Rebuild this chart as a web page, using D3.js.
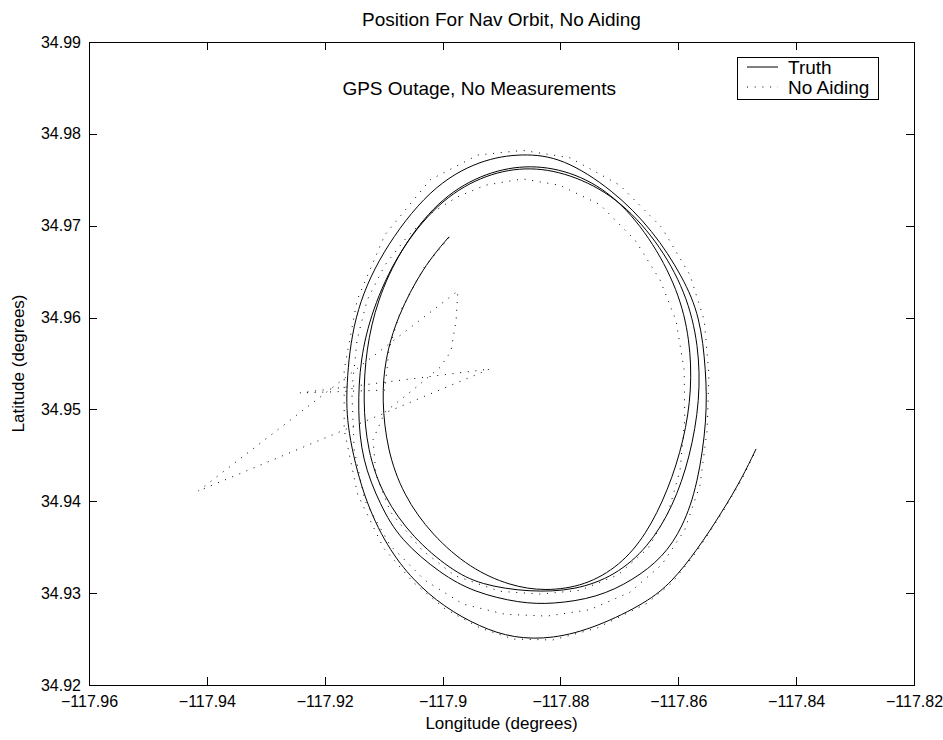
<!DOCTYPE html>
<html>
<head>
<meta charset="utf-8">
<script src="https://cdn.jsdelivr.net/npm/d3@7"></script>
<style>
body { margin: 0; background: #fff; }
svg text { font-family: "Liberation Sans", Arial, Helvetica, sans-serif; fill: #000; }
</style>
</head>
<body>
<svg id="chart" width="943" height="740"></svg>
<script>
// axis ticks
const xTicks = [-117.96, -117.94, -117.92, -117.9, -117.88, -117.86, -117.84, -117.82];
const yTicks = [34.92, 34.93, 34.94, 34.95, 34.96, 34.97, 34.98, 34.99];

// truth trajectory (deg)
const truthLon = [
    -117.8989, -117.9033, -117.9077, -117.9098, -117.9103, -117.9094, -117.9067, -117.9018, -117.8953, -117.8886, -117.8826, -117.8758,
    -117.8699, -117.8655, -117.8617, -117.8590, -117.8577, -117.8580, -117.8600, -117.8648, -117.8711, -117.8784, -117.8860,
    -117.8936, -117.9009, -117.9072, -117.9111, -117.9130, -117.9135, -117.9128, -117.9101, -117.9050, -117.8987, -117.8936, -117.8852,
    -117.8775, -117.8707, -117.8651, -117.8609, -117.8580, -117.8563, -117.8565, -117.8587, -117.8636, -117.8704, -117.8784, -117.8860,
    -117.8936, -117.9009, -117.9077, -117.9120, -117.9140, -117.9144, -117.9137, -117.9106, -117.9072, -117.9003, -117.8947, -117.8869,
    -117.8813, -117.8738, -117.8677, -117.8626, -117.8592, -117.8567, -117.8551, -117.8553, -117.8563, -117.8592, -117.8643, -117.8711,
    -117.8796, -117.8864,
    -117.8936, -117.9021, -117.9106, -117.9152, -117.9164, -117.9162, -117.9135, -117.9094, -117.9050, -117.8998, -117.8936, -117.8880,
    -117.8813, -117.8738, -117.8653, -117.8611, -117.8568, -117.8526, -117.8492, -117.8468
];
const truthLat = [
    34.9688, 34.9655, 34.9601, 34.9554, 34.9510, 34.9456, 34.9407, 34.9363, 34.9327, 34.9308, 34.9302, 34.9308,
    34.9330, 34.9363, 34.9412, 34.9467, 34.9521, 34.9576, 34.9630, 34.9688, 34.9735, 34.9760, 34.9767,
    34.9756, 34.9727, 34.9674, 34.9619, 34.9565, 34.9510, 34.9456, 34.9405, 34.9360, 34.9326, 34.9309, 34.9301,
    34.9303, 34.9319, 34.9350, 34.9394, 34.9448, 34.9510, 34.9570, 34.9628, 34.9684, 34.9731, 34.9757, 34.9765,
    34.9754, 34.9725, 34.9670, 34.9608, 34.9554, 34.9499, 34.9445, 34.9396, 34.9358, 34.9321, 34.9301, 34.9289,
    34.9288, 34.9295, 34.9314, 34.9339, 34.9372, 34.9418, 34.9489, 34.9543, 34.9601, 34.9644, 34.9695, 34.9739,
    34.9774, 34.9779,
    34.9772, 34.9742, 34.9670, 34.9601, 34.9524, 34.9478, 34.9405, 34.9350, 34.9314, 34.9285, 34.9263, 34.9251,
    34.9250, 34.9263, 34.9290, 34.9312, 34.9347, 34.9388, 34.9425, 34.9457
];

// unaided nav solution (deg)
const noAidLon = [
    -117.8989, -117.9032, -117.9071, -117.9091, -117.9098,
    -117.9242, -117.8920, -117.9415, -117.8974, -117.8977, -117.8986, -117.9004, -117.9047,
    -117.9098, -117.9118, -117.9113, -117.9088, -117.9035, -117.8979, -117.8903, -117.8835, -117.8767, -117.8702,
    -117.8651, -117.8617, -117.8597, -117.8589, -117.8590, -117.8604, -117.8631, -117.8673, -117.8733, -117.8801,
    -117.8864, -117.8928, -117.8976, -117.9021, -117.9060, -117.9098, -117.9128, -117.9145, -117.9154, -117.9150,
    -117.9132, -117.9089, -117.9030, -117.8965, -117.8894, -117.8823, -117.8750, -117.8682, -117.8628, -117.8589,
    -117.8563, -117.8551, -117.8548, -117.8556, -117.8580, -117.8628, -117.8699, -117.8784, -117.8864, -117.8940,
    -117.9021, -117.9098, -117.9145, -117.9167, -117.9167, -117.9144, -117.9100, -117.9050, -117.8996, -117.8936,
    -117.8880, -117.8813, -117.8738, -117.8653, -117.8611, -117.8568, -117.8526, -117.8492, -117.8468
];
const noAidLat = [
    34.9687, 34.9654, 34.9608, 34.9565, 34.9521,
    34.9518, 34.9544, 34.9411, 34.9629, 34.9597, 34.9563, 34.9546, 34.9523,
    34.9497, 34.9467, 34.9429, 34.9388, 34.9347, 34.9319, 34.9302, 34.9299, 34.9303, 34.9320,
    34.9349, 34.9388, 34.9434, 34.9489, 34.9543, 34.9597, 34.9641, 34.9684, 34.9723, 34.9744,
    34.9751, 34.9744, 34.9731, 34.9713, 34.9688, 34.9657, 34.9619, 34.9576, 34.9521, 34.9456,
    34.9401, 34.9352, 34.9314, 34.9288, 34.9277, 34.9275, 34.9282, 34.9301, 34.9331, 34.9369,
    34.9418, 34.9478, 34.9538, 34.9597, 34.9646, 34.9698, 34.9744, 34.9774, 34.9782, 34.9777,
    34.9750, 34.9690, 34.9619, 34.9543, 34.9478, 34.9407, 34.9349, 34.9312, 34.9283, 34.9262,
    34.9250, 34.9249, 34.9262, 34.9289, 34.9311, 34.9346, 34.9387, 34.9424, 34.9456
];

const seriesNames = ["Truth", "No Aiding"];
const noteText = "GPS Outage, No Measurements";
const noteLon = -117.917, noteLat = 34.985;

const width = 943, height = 740;
const margin = { top: 42, right: 29, bottom: 55, left: 89 };
const tickFont = 16, labelFont = 17, textFont = 19;
const dotDash = "1,6.7";

const svg = d3.select("#chart");

const x = d3.scaleLinear()
    .domain([-117.96, -117.82])
    .range([margin.left, width - margin.right]);
const y = d3.scaleLinear()
    .domain([34.92, 34.99])
    .range([height - margin.bottom, margin.top]);

const fmt = d => d3.format("")(+d.toFixed(2));

// axes, ticks pointing inward on all four sides
const styleAxis = g => {
    g.select(".domain").remove();
    g.attr("font-size", tickFont).attr("font-family", null);
    g.selectAll("line").attr("stroke", "#000").attr("shape-rendering", "crispEdges");
};

svg.append("g")
    .attr("transform", `translate(0,${height - margin.bottom})`)
    .call(d3.axisBottom(x).tickValues(xTicks).tickSizeInner(-8).tickSizeOuter(0).tickPadding(11).tickFormat(fmt))
    .call(styleAxis);
svg.append("g")
    .attr("transform", `translate(0,${margin.top})`)
    .call(d3.axisTop(x).tickValues(xTicks).tickSizeInner(-8).tickSizeOuter(0).tickFormat(""))
    .call(styleAxis);
svg.append("g")
    .attr("transform", `translate(${margin.left},0)`)
    .call(d3.axisLeft(y).tickValues(yTicks).tickSizeInner(-8).tickSizeOuter(0).tickPadding(8).tickFormat(fmt))
    .call(styleAxis);
svg.append("g")
    .attr("transform", `translate(${width - margin.right},0)`)
    .call(d3.axisRight(y).tickValues(yTicks).tickSizeInner(-8).tickSizeOuter(0).tickFormat(""))
    .call(styleAxis);

svg.append("rect")
    .attr("x", margin.left)
    .attr("y", margin.top)
    .attr("width", width - margin.left - margin.right)
    .attr("height", height - margin.top - margin.bottom)
    .attr("fill", "none")
    .attr("stroke", "#000")
    .attr("shape-rendering", "crispEdges");

// trajectories
const truth = truthLon.map((lon, i) => ({ lon: lon, lat: truthLat[i] }));
const noAid = noAidLon.map((lon, i) => ({ lon: lon, lat: noAidLat[i] }));

const smoothLine = d3.line()
    .curve(d3.curveBasis)
    .x(d => x(d.lon))
    .y(d => y(d.lat));
const straightLine = d3.line()
    .x(d => x(d.lon))
    .y(d => y(d.lat));

svg.append("path")
    .attr("d", straightLine(noAid))
    .attr("fill", "none")
    .attr("stroke", "#000")
    .attr("stroke-width", 1)
    .attr("stroke-dasharray", dotDash);

svg.append("path")
    .attr("d", smoothLine(truth))
    .attr("fill", "none")
    .attr("stroke", "#000")
    .attr("stroke-width", 1);

// texts
svg.append("text")
    .attr("x", (margin.left + width - margin.right) / 2)
    .attr("y", 26)
    .attr("text-anchor", "middle")
    .attr("font-size", textFont)
    .text("Position For Nav Orbit, No Aiding");

svg.append("text")
    .attr("x", (margin.left + width - margin.right) / 2)
    .attr("y", 729)
    .attr("text-anchor", "middle")
    .attr("font-size", labelFont)
    .text("Longitude (degrees)");

svg.append("text")
    .attr("transform", `translate(24,${(margin.top + height - margin.bottom) / 2}) rotate(-90)`)
    .attr("text-anchor", "middle")
    .attr("font-size", labelFont)
    .text("Latitude (degrees)");

svg.append("text")
    .attr("x", x(noteLon))
    .attr("y", y(noteLat))
    .attr("dy", "0.35em")
    .attr("font-size", textFont)
    .text(noteText);

// legend
const legend = svg.append("g").attr("transform", "translate(737,57)");
legend.append("rect")
    .attr("width", 141)
    .attr("height", 42)
    .attr("fill", "#fff")
    .attr("stroke", "#000")
    .attr("shape-rendering", "crispEdges");
const items = legend.selectAll(".item")
    .data(seriesNames)
    .enter()
    .append("g")
    .attr("class", "item")
    .attr("transform", (d, i) => `translate(0,${10 + i * 20})`);
items.append("line")
    .attr("x1", 10)
    .attr("x2", 41)
    .attr("stroke", "#000")
    .attr("stroke-dasharray", (d, i) => i === 0 ? null : dotDash);
items.append("text")
    .attr("x", 51)
    .attr("dy", "0.35em")
    .attr("font-size", textFont)
    .text(d => d);
</script>
</body>
</html>
